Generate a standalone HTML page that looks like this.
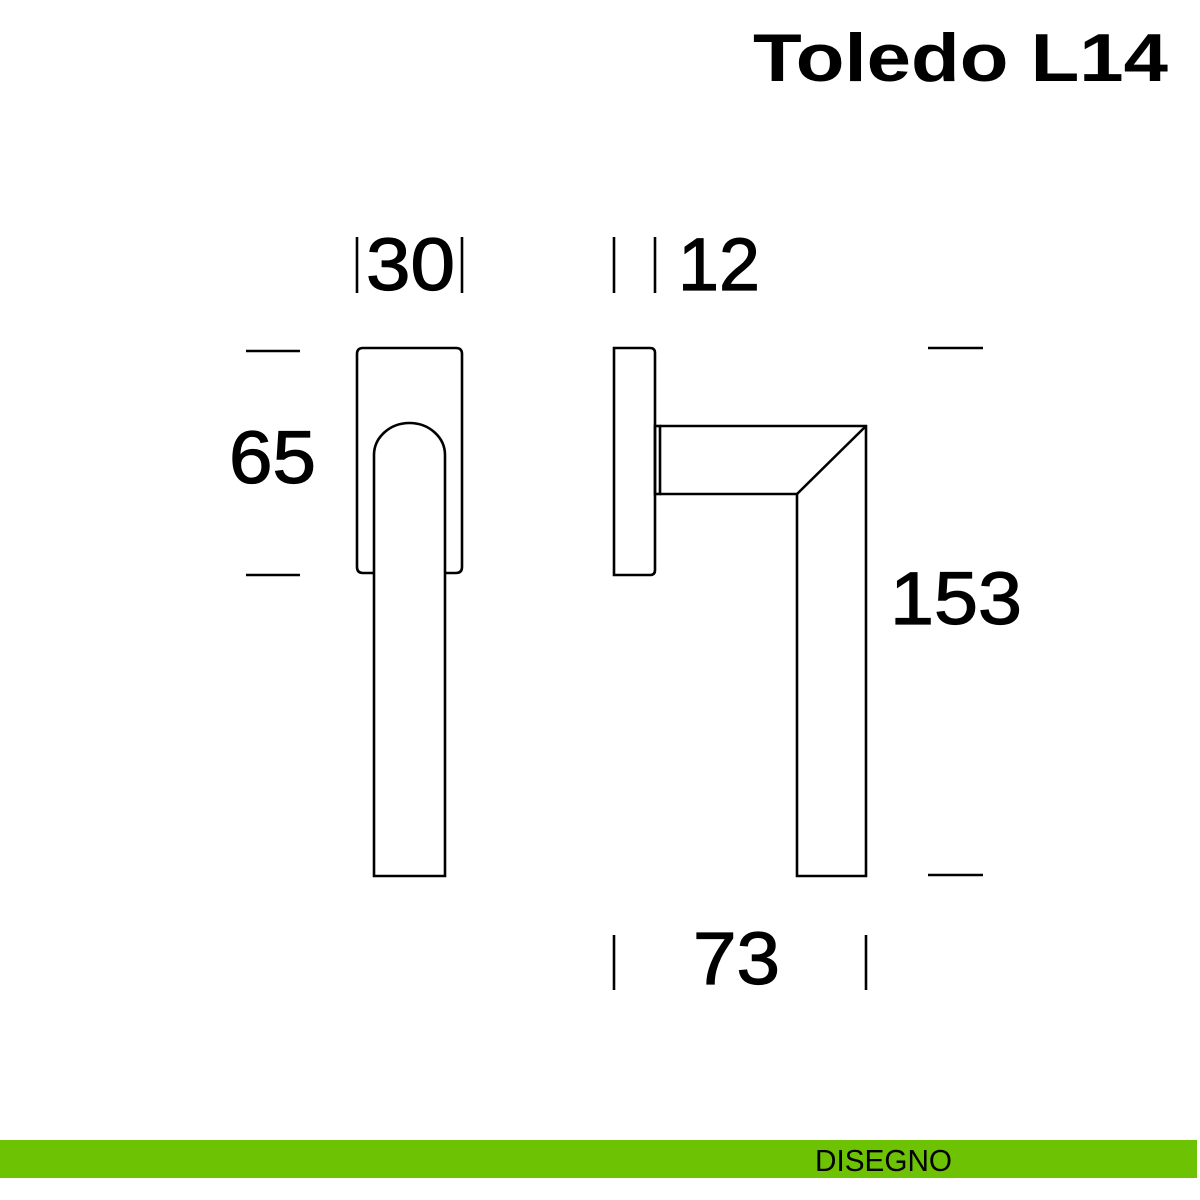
<!DOCTYPE html>
<html><head><meta charset="utf-8"><style>html,body{margin:0;padding:0;background:#fff;width:1200px;height:1200px;overflow:hidden}</style></head>
<body>
<svg width="1200" height="1200" viewBox="0 0 1200 1200" xmlns="http://www.w3.org/2000/svg">
<g font-family="Liberation Sans, sans-serif" fill="#000">
<text x="753" y="81" font-size="68" font-weight="bold" textLength="415" lengthAdjust="spacingAndGlyphs">Toledo L14</text>
<g stroke="#000" stroke-width="1.2">
<text x="366" y="290" font-size="74" textLength="89" lengthAdjust="spacingAndGlyphs">30</text>
<text x="678" y="290" font-size="74" textLength="82" lengthAdjust="spacingAndGlyphs">12</text>
<text x="229" y="483" font-size="74" textLength="87" lengthAdjust="spacingAndGlyphs">65</text>
<text x="890" y="624" font-size="74" textLength="132" lengthAdjust="spacingAndGlyphs">153</text>
<text x="693" y="984" font-size="74" textLength="87" lengthAdjust="spacingAndGlyphs">73</text>
</g>
</g>
<g stroke="#000" stroke-width="2.6" fill="none">
<line x1="357" y1="237" x2="357" y2="293"/><line x1="462" y1="237" x2="462" y2="293"/>
<line x1="614" y1="237" x2="614" y2="293"/><line x1="655" y1="237" x2="655" y2="293"/>
<line x1="246" y1="351" x2="300" y2="351"/><line x1="246" y1="575" x2="300" y2="575"/>
<line x1="928" y1="348" x2="983" y2="348"/><line x1="928" y1="875" x2="983" y2="875"/>
<line x1="614" y1="935" x2="614" y2="990"/><line x1="866" y1="935" x2="866" y2="990"/>
<path d="M374 573 H363 Q357 573 357 567 V354 Q357 348 363 348 H456 Q462 348 462 354 V567 Q462 573 456 573 H445"/>
<path d="M374 876 V455 A35.5 32 0 0 1 445 455 V876 Z"/>
<path d="M614 348 H650 Q655 348 655 353 V570 Q655 575 650 575 H614 Z"/>
<rect x="655" y="426" width="5" height="68"/>
<path d="M660 426 H866 V876 H797 V494 H660"/>
<line x1="866" y1="426" x2="797" y2="494"/>
</g>
<rect x="0" y="1140" width="1197" height="38" fill="#6dc204"/>
<text x="815" y="1171" font-family="Liberation Sans Narrow, Liberation Sans, sans-serif" font-size="31" textLength="137" lengthAdjust="spacingAndGlyphs" fill="#000">DISEGNO</text>
</svg>
</body></html>
